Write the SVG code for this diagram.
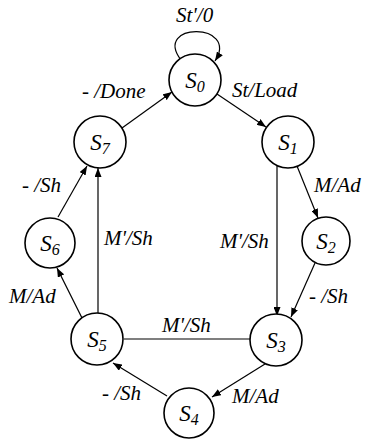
<svg xmlns="http://www.w3.org/2000/svg" width="366" height="440" viewBox="0 0 366 440">
<style>
.node circle{fill:#fff;stroke:#000;stroke-width:1.6}
.node text{font-family:"Liberation Serif","Times New Roman",serif;font-style:italic;font-size:23px;text-anchor:middle;fill:#000}
.node tspan{font-size:16px}
.edge{fill:none;stroke:#000;stroke-width:1.2}
.arr{marker-end:url(#ah)}
.lbl{font-family:"Liberation Serif","Times New Roman",serif;font-style:italic;font-size:21px;fill:#000}
</style>
<defs>
<marker id="ah" markerUnits="userSpaceOnUse" markerWidth="9" markerHeight="7" refX="9" refY="3.5" orient="auto">
<path d="M0,0 L9,3.5 L0,7 z" fill="#000"/>
</marker>
</defs>
<rect width="366" height="440" fill="#fff"/>
<g id="connectors">
<path class="edge arr" d="M181 60 C152 22 240 22 215 61"/>
<line class="edge arr" x1="217" y1="94" x2="266" y2="127"/>
<line class="edge arr" x1="122" y1="128" x2="172" y2="92"/>
<line class="edge arr" x1="297" y1="166" x2="318" y2="218"/>
<line class="edge arr" x1="277" y1="166" x2="277" y2="316"/>
<line class="edge arr" x1="315" y1="263" x2="291" y2="317"/>
<line class="edge arr" x1="265" y1="364" x2="212" y2="397"/>
<line class="edge arr" x1="167" y1="396" x2="113" y2="363"/>
<line class="edge" x1="124" y1="339" x2="250" y2="339"/>
<line class="edge arr" x1="82" y1="318" x2="57" y2="268"/>
<line class="edge arr" x1="98" y1="313" x2="98" y2="168"/>
<line class="edge arr" x1="58" y1="217" x2="87" y2="166"/>
<text class="lbl" x="176" y="22">St'/0</text>
<text class="lbl" x="232" y="97">St/Load</text>
<text class="lbl" x="82" y="98">- /Done</text>
<text class="lbl" x="22" y="192">- /Sh</text>
<text class="lbl" x="104" y="245">M'/Sh</text>
<text class="lbl" x="314" y="192">M/Ad</text>
<text class="lbl" x="220" y="248">M'/Sh</text>
<text class="lbl" x="309" y="303">- /Sh</text>
<text class="lbl" x="232" y="403">M/Ad</text>
<text class="lbl" x="162" y="332">M'/Sh</text>
<text class="lbl" x="102" y="400">- /Sh</text>
<text class="lbl" x="9" y="303">M/Ad</text>
</g>
<g id="S0" class="node"><circle cx="195" cy="80" r="26"/><text x="195" y="88">S<tspan dy="4">0</tspan></text></g>
<g id="S1" class="node"><circle cx="288" cy="142" r="26"/><text x="288" y="150">S<tspan dy="4">1</tspan></text></g>
<g id="S2" class="node"><circle cx="326" cy="241" r="24"/><text x="326" y="249">S<tspan dy="4">2</tspan></text></g>
<g id="S3" class="node"><circle cx="276" cy="340" r="26"/><text x="276" y="348">S<tspan dy="4">3</tspan></text></g>
<g id="S4" class="node"><circle cx="189" cy="413" r="25"/><text x="189" y="421">S<tspan dy="4">4</tspan></text></g>
<g id="S5" class="node"><circle cx="97" cy="339" r="26"/><text x="97" y="347">S<tspan dy="4">5</tspan></text></g>
<g id="S6" class="node"><circle cx="50" cy="243" r="25"/><text x="50" y="251">S<tspan dy="4">6</tspan></text></g>
<g id="S7" class="node"><circle cx="100" cy="142" r="26"/><text x="100" y="150">S<tspan dy="4">7</tspan></text></g>
</svg>
